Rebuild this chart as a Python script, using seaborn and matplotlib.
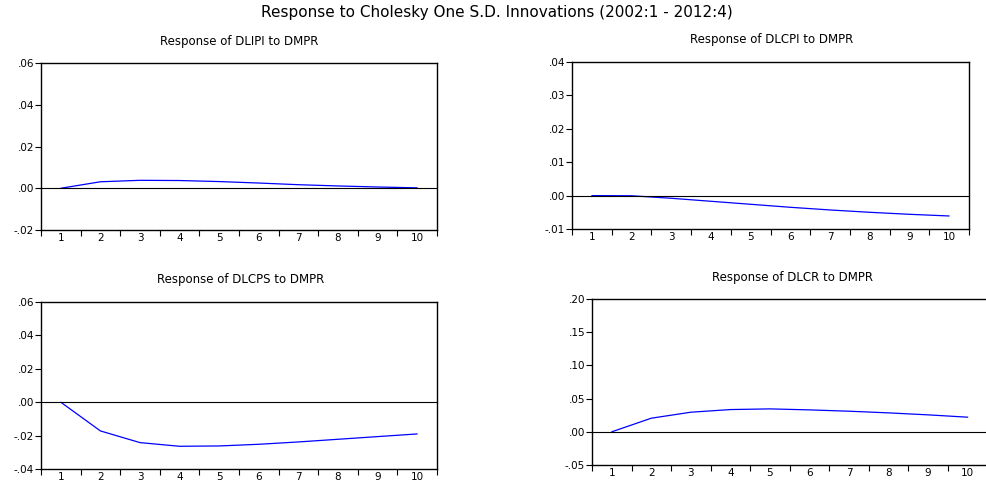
import seaborn as sns
import pandas as pd
import matplotlib
matplotlib.use("Agg")
import matplotlib.pyplot as plt
from matplotlib.ticker import FixedLocator, FuncFormatter

sns.set_style("white")
plt.rcParams['font.family'] = ['DejaVu Sans']
plt.rcParams['text.color'] = 'black'
plt.rcParams['xtick.color'] = 'black'
plt.rcParams['ytick.color'] = 'black'

periods = [1, 2, 3, 4, 5, 6, 7, 8, 9, 10]
dlipi = [0.0, 0.0031, 0.0038, 0.0037, 0.0032, 0.0025, 0.0017, 0.0011, 0.0006, 0.0002]
dlcpi = [0.0, -0.00005, -0.0008, -0.0017, -0.0026, -0.0035, -0.0043, -0.0050, -0.0056, -0.0061]
dlcps = [0.0, -0.0172, -0.0242, -0.0264, -0.0262, -0.0252, -0.0238, -0.0222, -0.0206, -0.0190]
dlcr = [0.0, 0.0205, 0.0295, 0.0335, 0.0345, 0.0330, 0.0310, 0.0285, 0.0255, 0.0220]

titles = ["Response of DLIPI to DMPR", "Response of DLCPI to DMPR",
          "Response of DLCPS to DMPR", "Response of DLCR to DMPR"]
series = [dlipi, dlcpi, dlcps, dlcr]
yticks = [[-0.02, 0.00, 0.02, 0.04, 0.06],
          [-0.01, 0.00, 0.01, 0.02, 0.03, 0.04],
          [-0.04, -0.02, 0.00, 0.02, 0.04, 0.06],
          [-0.05, 0.00, 0.05, 0.10, 0.15, 0.20]]

W, H = 986, 482
# axes boxes in pixels: left, right, top, bottom
boxes = [(41, 437, 63, 230), (572, 969, 62, 229),
         (41, 437, 302, 469), (592, 987.5, 299, 465)]
# subtitle centres in pixels
title_pos = [(239, 42), (772, 40), (241, 280), (792, 277)]


def fmt(v, pos):
    s = "%.2f" % v
    if s.startswith("-0"):
        return "-" + s[2:]
    if s.startswith("0"):
        return s[1:]
    return s


fig = plt.figure(figsize=(W / 100, H / 100), dpi=100)
fig.text(497 / W, 1 - 13 / H, "Response to Cholesky One S.D. Innovations (2002:1 - 2012:4)",
         ha="center", va="center", fontsize=11)

for (l, r, t, b), (tx, ty), title, vals, yt in zip(boxes, title_pos, titles, series, yticks):
    ax = fig.add_axes([l / W, 1 - b / H, (r - l) / W, (b - t) / H])
    df = pd.DataFrame({"period": periods, "response": vals})
    sns.lineplot(data=df, x="period", y="response", ax=ax, color="#0000FF", linewidth=0.9)
    ax.axhline(0, color="black", linewidth=0.8)
    ax.set_xlim(0.5, 10.5)
    ax.set_ylim(yt[0], yt[-1])
    ax.set_yticks(yt)
    ax.yaxis.set_major_formatter(FuncFormatter(fmt))
    ax.set_xticks(periods)
    ax.xaxis.set_minor_locator(FixedLocator([p + 0.5 for p in range(0, 11)]))
    ax.tick_params(axis="x", which="major", length=0, labelsize=7.5, pad=2.5)
    ax.tick_params(axis="x", which="minor", length=4, width=0.8, direction="out", bottom=True)
    ax.tick_params(axis="y", which="major", length=4, width=0.8, direction="out", left=True,
                   labelsize=7.5, pad=1)
    ax.set_xlabel("")
    ax.set_ylabel("")
    for sp in ax.spines.values():
        sp.set_color("black")
        sp.set_linewidth(1.0)
    fig.text(tx / W, 1 - ty / H, title, ha="center", va="center", fontsize=8.5)

fig.savefig("out.png", dpi=100)
